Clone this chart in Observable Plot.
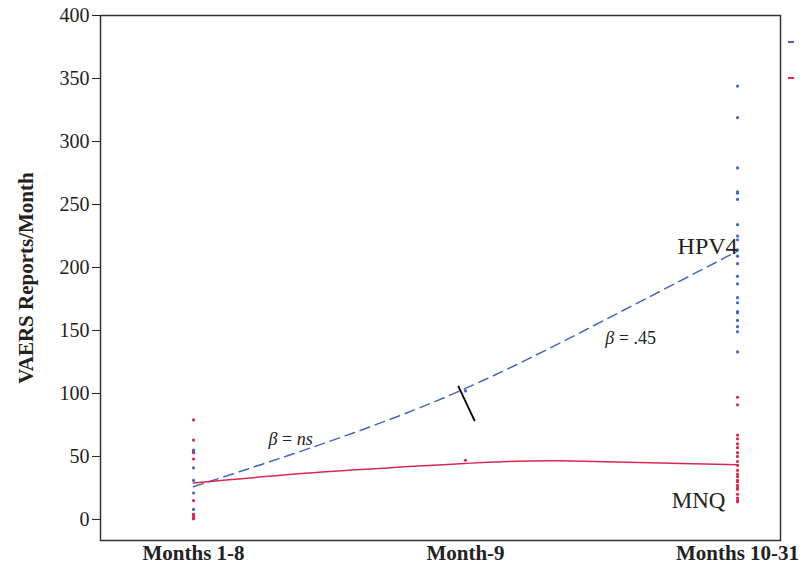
<!DOCTYPE html>
<html><head><meta charset="utf-8">
<script src="https://cdn.jsdelivr.net/npm/d3@7"></script>
<script src="https://cdn.jsdelivr.net/npm/@observablehq/plot@0.6"></script>
<style>
body{margin:0;background:#fff;}
#wrap{position:relative;width:800px;height:571px;}
.leg{position:absolute;width:6px;height:2px;}
</style></head><body><div id="wrap"></div>
<script>
// ---- data ----
const periods = ["Months 1-8", "Month-9", "Months 10-31"];
const periodPos = [0, 1, 2];
const seriesNames = ["HPV4", "MNQ"];
const seriesColors = ["#4467bb", "#d8284f"];

const hpv4Months1to8 = [55, 54, 41, 31, 21, 8, 4, 1];
const mnqMonths1to8 = [79, 63, 53, 48, 15, 4, 2, 0.5];
const hpv4Month9 = [102];
const mnqMonth9 = [47];
const hpv4Months10to31 = [344, 319, 279, 260, 259, 254, 234, 225, 222, 214, 209, 203, 193, 187, 176, 172, 165, 164, 158, 153, 149, 133];
const mnqMonths10to31 = [97, 91, 67, 64, 60, 57, 53, 50, 46, 43, 39, 36, 34, 31, 30, 27, 25, 24, 20, 17, 15, 14];

// fitted trend lines
const hpv4FitX = [0, 0.5, 1, 1.5, 2];
const hpv4FitY = [26, 62, 104, 157, 213];
const mnqFitX = [0, 0.5, 1, 1.35, 2];
const mnqFitY = [29, 38, 44.5, 46.5, 43.5];

// annotations
const annoText = ["β = ns", "β = .45", "HPV4", "MNQ"];
const annoX = [0.357, 1.607, 1.89, 1.857];
const annoY = [64, 144, 217, 15];
const annoSize = [18, 18, 24, 23];
const breakX = [0.973, 1.034];
const breakY = [106, 78];

const yTicks = [0, 50, 100, 150, 200, 250, 300, 350, 400];

// ---- build tables ----
const dots = [];
const groups = [
  [hpv4Months1to8, mnqMonths1to8],
  [hpv4Month9, mnqMonth9],
  [hpv4Months10to31, mnqMonths10to31]
];
groups.forEach((g, i) => {
  g.forEach((vals, s) => vals.forEach(v => dots.push({x: periodPos[i], v, series: seriesNames[s]})));
});
const hpv4Fit = hpv4FitX.map((x, i) => ({x, v: hpv4FitY[i]}));
const mnqFit = mnqFitX.map((x, i) => ({x, v: mnqFitY[i]}));
const annos = annoText.map((t, i) => ({t, x: annoX[i], y: annoY[i], s: annoSize[i]}));

const font = "Liberation Serif, Times New Roman, serif";

const chart = Plot.plot({
  width: 800,
  height: 571,
  marginLeft: 100,
  marginRight: 20,
  marginTop: 15,
  marginBottom: 31,
  style: {fontFamily: font, fontSize: "20px", color: "#222", background: "#fff"},
  x: {domain: [-0.342, 2.158]},
  y: {domain: [-16.7, 400]},
  color: {domain: seriesNames, range: seriesColors},
  marks: [
    Plot.axisY({ticks: yTicks, tickSize: 8, tickPadding: 3, label: "VAERS Reports/Month",
      labelAnchor: "center", labelOffset: 82, labelArrow: "none", fontSize: 20}),
    Plot.axisX({ticks: periodPos, tickFormat: d => periods[d], tickSize: 0, tickPadding: 5,
      fontWeight: "bold", fontSize: 21, label: null}),
    Plot.line(hpv4Fit, {x: "x", y: "v", stroke: seriesColors[0], strokeWidth: 1.5, strokeDasharray: "10,6", curve: "natural"}),
    Plot.line(mnqFit, {x: "x", y: "v", stroke: seriesColors[1], strokeWidth: 1.5, curve: "natural"}),
    Plot.dot(dots, {x: "x", y: "v", fill: "series", r: 1.6, stroke: null}),
    Plot.link([0], {x1: () => breakX[0], y1: () => breakY[0], x2: () => breakX[1], y2: () => breakY[1], stroke: "#000", strokeWidth: 1.8}),
    Plot.text(annos, {x: "x", y: "y", text: "t", fontSize: "s", fill: "#222", fontFamily: font}),
    Plot.frame({stroke: "#333", strokeWidth: 1.5})
  ]
});

const wrap = document.getElementById("wrap");
wrap.appendChild(chart);

// bold, larger y-axis title
d3.select(chart).selectAll("text").each(function() {
  if (this.textContent === "VAERS Reports/Month") {
    d3.select(this).attr("font-weight", "bold").attr("font-size", 21);
  }
});

// italic beta in annotations
d3.select(chart).selectAll("text").each(function() {
  const t = this.textContent;
  if (t.startsWith("β")) {
    const rest = t.slice(1);
    const sel = d3.select(this);
    sel.text(null);
    sel.append("tspan").attr("font-style", "italic").text("β");
    if (rest.includes("ns")) {
      sel.append("tspan").text(" = ");
      sel.append("tspan").attr("font-style", "italic").text("ns");
    } else {
      sel.append("tspan").text(rest);
    }
  }
});

// truncated legend swatches at right edge
seriesColors.forEach((c, i) => {
  const d = document.createElement("div");
  d.className = "leg";
  d.style.background = c;
  d.style.left = "788px";
  d.style.top = (41 + i * 36) + "px";
  wrap.appendChild(d);
});
</script></body></html>
